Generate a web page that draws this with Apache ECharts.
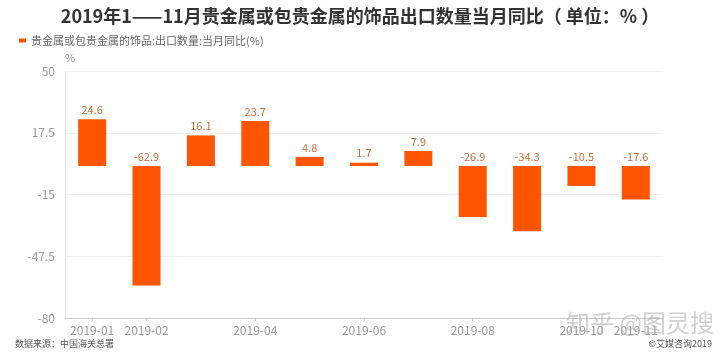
<!DOCTYPE html>
<html>
<head>
<meta charset="utf-8">
<script src="https://cdn.jsdelivr.net/npm/echarts@6/dist/echarts.min.js"></script>
<style>html,body{margin:0;padding:0;background:#fff;}#c{width:720px;height:359px;}</style>
</head>
<body>
<div id="c"></div>
<script>
const categories = ['2019-01','2019-02','2019-03','2019-04','2019-05','2019-06','2019-07','2019-08','2019-09','2019-10','2019-11'];
const values = [24.6, -62.9, 16.1, 23.7, 4.8, 1.7, 7.9, -26.9, -34.3, -10.5, -17.6];
const seriesName = '贵金属或包贵金属的饰品:出口数量:当月同比(%)';
const yTicks = [-80, -47.5, -15, 17.5, 50];

const font = '"Noto Sans CJK SC", "Noto Sans", sans-serif';
const showLabel = function (i) { return i === 0 || i % 2 === 1 || i === categories.length - 1; };
const chart = echarts.init(document.getElementById('c'));
chart.setOption({
  animation: false,
  textStyle: { fontFamily: font },
  title: {
    text: '2019年1——11月贵金属或包贵金属的饰品出口数量当月同比（ 单位：% ）',
    left: 'center', top: 2,
    textStyle: { fontSize: 18, fontWeight: 'bold', color: '#333', fontFamily: font }
  },
  legend: {
    left: 14, top: 30,
    itemWidth: 7, itemHeight: 4,
    itemGap: 4,
    textStyle: { fontSize: 11, color: '#666', fontFamily: font },
    data: [{ name: seriesName, icon: 'rect' }]
  },
  grid: { left: 65, right: 57, top: 71, bottom: 41 },
  xAxis: {
    type: 'category',
    data: categories,
    axisLine: { onZero: false, lineStyle: { color: '#ccc' } },
    axisTick: { show: true, alignWithLabel: true, length: 3, lineStyle: { color: '#ccc' }, interval: showLabel },
    axisLabel: { color: '#999', fontSize: 12, margin: 6, interval: showLabel }
  },
  yAxis: {
    type: 'value',
    name: '%',
    nameGap: 8,
    nameTextStyle: { color: '#999', fontSize: 11, align: 'center', padding: [0, 0, 0, 10] },
    min: yTicks[0], max: yTicks[yTicks.length - 1], interval: 32.5,
    axisLine: { show: true, lineStyle: { color: '#e6e6e6' } },
    axisTick: { show: false },
    axisLabel: { color: '#999', fontSize: 12, margin: 10 },
    splitLine: { lineStyle: { color: '#f0f0f0' } }
  },
  series: [{
    name: seriesName,
    type: 'bar',
    data: values,
    barWidth: 28,
    itemStyle: { color: '#FF5500' },
    label: { show: true, position: 'top', color: '#C8703C', fontSize: 11, distance: 4 }
  }],
  graphic: [
    { type: 'text', left: 15, top: 339, style: { text: '数据来源：中国海关总署', fontSize: 9, fill: '#555', fontFamily: font } },
    { type: 'text', right: 8, top: 339, style: { text: '©艾媒咨询2019', fontSize: 9, fill: '#555', fontFamily: font } },
    { type: 'text', right: 6, top: 311, z: 100, style: { text: '知乎 @图灵搜', fontSize: 24, fill: 'rgba(170,170,170,0.55)', fontFamily: font } }
  ]
});
</script>
</body>
</html>
